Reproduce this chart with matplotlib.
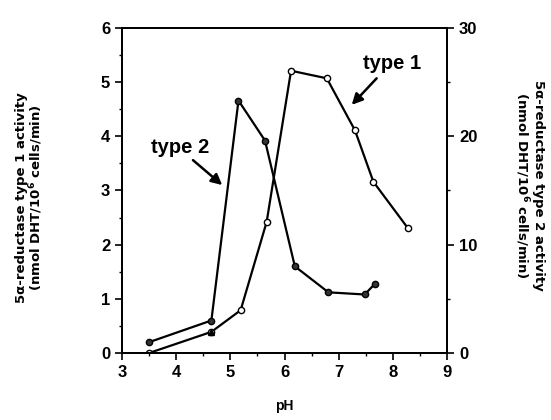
import matplotlib.pyplot as plt
from matplotlib.ticker import MultipleLocator

plt.rcParams['font.family'] = ['Liberation Sans', 'DejaVu Sans']
plt.rcParams['font.weight'] = 'bold'

# type 1 (left axis)
t1_ph = [3.5, 4.65, 5.19, 5.67, 6.12, 6.78, 7.30, 7.64, 8.28]
t1_act = [0.0, 0.39, 0.79, 2.42, 5.21, 5.07, 4.11, 3.16, 2.30]

# type 2 (right axis)
t2_ph = [3.5, 4.65, 5.15, 5.64, 6.19, 6.81, 7.48, 7.67]
t2_act = [1.0, 3.0, 23.3, 19.6, 8.0, 5.6, 5.4, 6.4]

x_ticks = [3, 4, 5, 6, 7, 8, 9]
left_ticks = [0, 1, 2, 3, 4, 5, 6]
right_ticks = [0, 10, 20, 30]

fig = plt.figure(figsize=(5.51, 4.20), dpi=100)
ax = fig.add_axes([0.2214, 0.1595, 0.590, 0.774])
ax2 = ax.twinx()

ax.plot(t1_ph, t1_act, color='black', lw=1.6, marker='o', ms=4.5,
        mfc='white', mec='black', mew=1.0)
ax.plot(t1_ph[1], t1_act[1], color='black', marker='^', ms=5, ls='none')
ax2.plot(t2_ph, t2_act, color='black', lw=1.6, marker='o', ms=4.5,
         mfc='#333333', mec='black', mew=1.0)

ax.set_xlim(3, 9)
ax.set_ylim(0, 6)
ax2.set_ylim(0, 30)
ax.set_xticks(x_ticks)
ax.set_yticks(left_ticks)
ax2.set_yticks(right_ticks)
ax.xaxis.set_minor_locator(MultipleLocator(0.5))
ax.yaxis.set_minor_locator(MultipleLocator(0.5))
ax2.yaxis.set_minor_locator(MultipleLocator(5))

for a in (ax, ax2):
    a.tick_params(which='major', direction='out', length=5, width=1.2,
                  labelsize=12)
    a.tick_params(which='minor', direction='out', length=2.5, width=1.0)
    for s in a.spines.values():
        s.set_linewidth(1.3)

ax.set_xlabel('pH', fontsize=10, fontweight='bold', labelpad=14)

# axis titles placed by hand (pixel positions / figure size)
fig.text(30 / 551, 1 - 198 / 420,
         '5\u03b1-reductase type 1 activity\n(nmol DHT/10$^{\\mathbf{6}}$ cells/min)',
         family='DejaVu Sans', fontsize=9.5, fontweight='bold', rotation=90,
         ha='center', va='center', linespacing=0.9)
fig.text(529 / 551, 1 - 185 / 420,
         '5\u03b1-reductase type 2 activity\n(nmol DHT/10$^{\\mathbf{6}}$ cells/min)',
         family='DejaVu Sans', fontsize=9.5, fontweight='bold', rotation=270,
         ha='center', va='center', linespacing=1.1)

arrow = dict(arrowstyle='-|>', color='black', lw=1.8, shrinkA=0, shrinkB=0,
             mutation_scale=16)
ax.text(7.98, 5.35, 'type 1', fontsize=14.5, fontweight='bold',
        ha='center', va='center')
ax.annotate('', xy=(7.24, 4.58), xytext=(7.70, 5.07), arrowprops=arrow)
ax.text(4.07, 3.8, 'type 2', fontsize=14.5, fontweight='bold',
        ha='center', va='center')
ax.annotate('', xy=(4.85, 3.10), xytext=(4.31, 3.56), arrowprops=arrow)

fig.savefig('out.png', dpi=100)
